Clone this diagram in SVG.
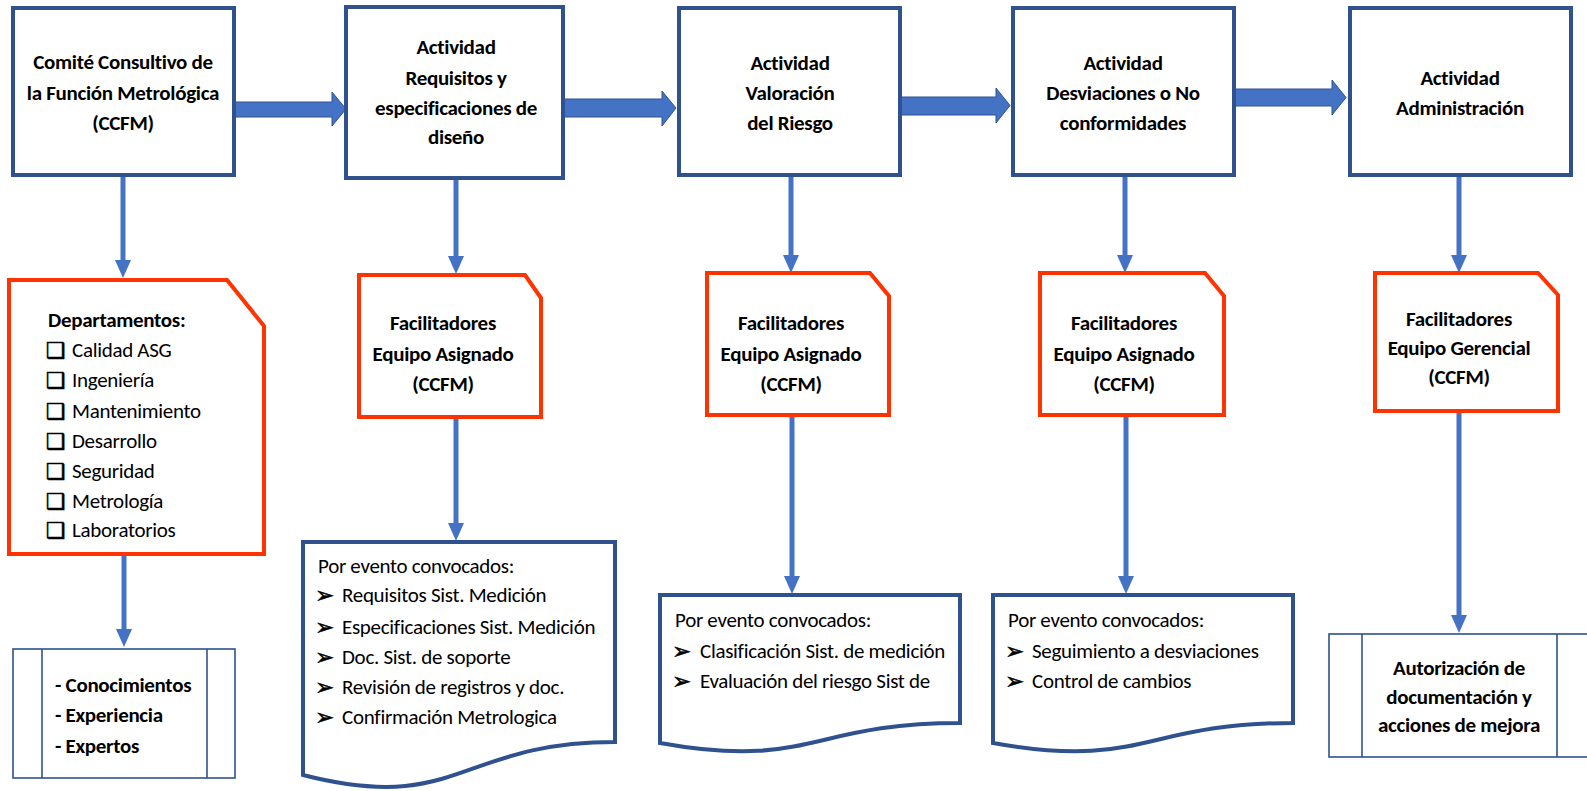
<svg xmlns="http://www.w3.org/2000/svg" width="1587" height="791" viewBox="0 0 1587 791">
  <defs>
    <style>
      .box { fill: #ffffff; stroke: #2F528F; stroke-width: 4; }
      .snip { fill: #ffffff; stroke: #FF3300; stroke-width: 4; }
      .doc { fill: #ffffff; stroke: #2F528F; stroke-width: 4; }
      .proc { fill: #ffffff; stroke: #2F528F; stroke-width: 1.6; }
      .block { fill: #4472C4; stroke: #2F528F; stroke-width: 1; }
      .link { stroke: #4472C4; stroke-width: 5; fill: none; }
      .t { font-family: Calibri, Carlito, Lato, "DejaVu Sans Condensed", sans-serif; font-size: 21px; fill: #000000; letter-spacing: -0.3px; }
      .b { font-weight: bold; }
      .c { text-anchor: middle; }
      .chk { font-family: "DejaVu Sans", sans-serif; font-size: 22px; fill: #000000; stroke: #000000; stroke-width: 0.6; }
      .arw { font-family: "DejaVu Sans", sans-serif; font-size: 23px; fill: #000000; stroke: #000000; stroke-width: 0.5; }
    </style>
    <marker id="head" markerUnits="userSpaceOnUse" markerWidth="18" markerHeight="18" refX="0" refY="8" orient="auto">
      <path d="M0,0 L18,8 L0,16 Z" fill="#4472C4"/>
    </marker>
  </defs>

  <!-- connectors -->
  <g id="connectors">
    <polygon class="block" points="234,102 332,102 332,92 346,109 332,126 332,117 234,117"/>
    <polygon class="block" points="563,99 662,99 662,91 676,108 662,126 662,117 563,117"/>
    <polygon class="block" points="900,97 996,97 996,88 1010,105.5 996,123 996,115 900,115"/>
    <polygon class="block" points="1234,89 1332,89 1332,80 1346,97.5 1332,115 1332,106 1234,106"/>

    <line class="link" x1="123" y1="175" x2="123" y2="260" marker-end="url(#head)"/>
    <line class="link" x1="456" y1="178" x2="456" y2="256" marker-end="url(#head)"/>
    <line class="link" x1="791" y1="175" x2="791" y2="255" marker-end="url(#head)"/>
    <line class="link" x1="1125" y1="175" x2="1125" y2="255" marker-end="url(#head)"/>
    <line class="link" x1="1459" y1="175" x2="1459" y2="255" marker-end="url(#head)"/>

    <line class="link" x1="124" y1="555" x2="124" y2="629" marker-end="url(#head)"/>
    <line class="link" x1="456" y1="417" x2="456" y2="523" marker-end="url(#head)"/>
    <line class="link" x1="792" y1="415" x2="792" y2="576" marker-end="url(#head)"/>
    <line class="link" x1="1126" y1="415" x2="1126" y2="576" marker-end="url(#head)"/>
    <line class="link" x1="1459" y1="411" x2="1459" y2="615" marker-end="url(#head)"/>
  </g>

  <!-- top row: committee and activities -->
  <g id="ccfm">
    <rect class="box" x="13" y="8" width="221" height="167"/>
    <text class="t b c" x="123" y="69">Comité Consultivo de</text>
    <text class="t b c" x="123" y="100">la Función Metrológica</text>
    <text class="t b c" x="123" y="130">(CCFM)</text>
  </g>
  <g id="act-requisitos">
    <rect class="box" x="346" y="7" width="217" height="171"/>
    <text class="t b c" x="456" y="54">Actividad</text>
    <text class="t b c" x="456" y="85">Requisitos y</text>
    <text class="t b c" x="456" y="115">especificaciones de</text>
    <text class="t b c" x="456" y="144">diseño</text>
  </g>
  <g id="act-riesgo">
    <rect class="box" x="679" y="8" width="221" height="167"/>
    <text class="t b c" x="790" y="70">Actividad</text>
    <text class="t b c" x="790" y="100">Valoración</text>
    <text class="t b c" x="790" y="130">del Riesgo</text>
  </g>
  <g id="act-desviaciones">
    <rect class="box" x="1013" y="8" width="221" height="167"/>
    <text class="t b c" x="1123" y="70">Actividad</text>
    <text class="t b c" x="1123" y="100">Desviaciones o No</text>
    <text class="t b c" x="1123" y="130">conformidades</text>
  </g>
  <g id="act-administracion">
    <rect class="box" x="1350" y="8" width="221" height="167"/>
    <text class="t b c" x="1460" y="85">Actividad</text>
    <text class="t b c" x="1460" y="115">Administración</text>
  </g>

  <!-- middle row: departments and facilitators -->
  <g id="departamentos">
    <path class="snip" d="M9,280 H227 L264,326 V554 H9 Z"/>
    <text class="t b" x="48" y="327">Departamentos:</text>
    <g class="chk">
      <text x="46" y="358">❑</text>
      <text x="46" y="388">❑</text>
      <text x="46" y="419">❑</text>
      <text x="46" y="449">❑</text>
      <text x="46" y="479">❑</text>
      <text x="46" y="509">❑</text>
      <text x="46" y="538">❑</text>
    </g>
    <text class="t" x="72" y="357">Calidad ASG</text>
    <text class="t" x="72" y="387">Ingeniería</text>
    <text class="t" x="72" y="418">Mantenimiento</text>
    <text class="t" x="72" y="448">Desarrollo</text>
    <text class="t" x="72" y="478">Seguridad</text>
    <text class="t" x="72" y="508">Metrología</text>
    <text class="t" x="72" y="537">Laboratorios</text>
  </g>
  <g id="fac-requisitos">
    <path class="snip" d="M359,275 H525 L541,298 V417 H359 Z"/>
    <text class="t b c" x="443" y="330">Facilitadores</text>
    <text class="t b c" x="443" y="361">Equipo Asignado</text>
    <text class="t b c" x="443" y="391">(CCFM)</text>
  </g>
  <g id="fac-riesgo">
    <path class="snip" d="M707,273 H870 L889,296 V415 H707 Z"/>
    <text class="t b c" x="791" y="330">Facilitadores</text>
    <text class="t b c" x="791" y="361">Equipo Asignado</text>
    <text class="t b c" x="791" y="391">(CCFM)</text>
  </g>
  <g id="fac-desviaciones">
    <path class="snip" d="M1040,273 H1205 L1224,296 V415 H1040 Z"/>
    <text class="t b c" x="1124" y="330">Facilitadores</text>
    <text class="t b c" x="1124" y="361">Equipo Asignado</text>
    <text class="t b c" x="1124" y="391">(CCFM)</text>
  </g>
  <g id="fac-administracion">
    <path class="snip" d="M1375,273 H1538 L1558,295 V411 H1375 Z"/>
    <text class="t b c" x="1459" y="326">Facilitadores</text>
    <text class="t b c" x="1459" y="355">Equipo Gerencial</text>
    <text class="t b c" x="1459" y="384">(CCFM)</text>
  </g>

  <!-- bottom row: resources, events and outcomes -->
  <g id="recursos">
    <rect class="proc" x="13" y="649" width="222" height="129"/>
    <line class="proc" x1="42" y1="649" x2="42" y2="778"/>
    <line class="proc" x1="207" y1="649" x2="207" y2="778"/>
    <text class="t b" x="55" y="692">- Conocimientos</text>
    <text class="t b" x="55" y="722">- Experiencia</text>
    <text class="t b" x="55" y="753">- Expertos</text>
  </g>
  <g id="eventos-requisitos">
    <path class="doc" d="M303,542 H615 V742 C459,742 459,815 303,775 Z"/>
    <text class="t" x="318" y="573">Por evento convocados:</text>
    <g class="arw">
      <text x="315" y="603">➢</text>
      <text x="315" y="635">➢</text>
      <text x="315" y="665">➢</text>
      <text x="315" y="695">➢</text>
      <text x="315" y="725">➢</text>
    </g>
    <text class="t" x="342" y="602">Requisitos Sist. Medición</text>
    <text class="t" x="342" y="634">Especificaciones Sist. Medición</text>
    <text class="t" x="342" y="664">Doc. Sist. de soporte</text>
    <text class="t" x="342" y="694">Revisión de registros y doc.</text>
    <text class="t" x="342" y="724">Confirmación Metrologica</text>
  </g>
  <g id="eventos-riesgo">
    <path class="doc" d="M660,595 H960 V723 C810,723 810,770 660,743 Z"/>
    <text class="t" x="675" y="627">Por evento convocados:</text>
    <g class="arw">
      <text x="672" y="659">➢</text>
      <text x="672" y="689">➢</text>
    </g>
    <text class="t" x="700" y="658">Clasificación Sist. de medición</text>
    <text class="t" x="700" y="688">Evaluación del riesgo Sist de</text>
  </g>
  <g id="eventos-desviaciones">
    <path class="doc" d="M993,595 H1293 V723 C1143,723 1143,770 993,743 Z"/>
    <text class="t" x="1008" y="627">Por evento convocados:</text>
    <g class="arw">
      <text x="1005" y="659">➢</text>
      <text x="1005" y="689">➢</text>
    </g>
    <text class="t" x="1032" y="658">Seguimiento a desviaciones</text>
    <text class="t" x="1032" y="688">Control de cambios</text>
  </g>
  <g id="autorizacion">
    <rect class="proc" x="1329" y="634" width="262" height="123"/>
    <line class="proc" x1="1362" y1="634" x2="1362" y2="757"/>
    <line class="proc" x1="1557" y1="634" x2="1557" y2="757"/>
    <text class="t b c" x="1459" y="675">Autorización de</text>
    <text class="t b c" x="1459" y="704">documentación y</text>
    <text class="t b c" x="1459" y="732">acciones de mejora</text>
  </g>
</svg>
